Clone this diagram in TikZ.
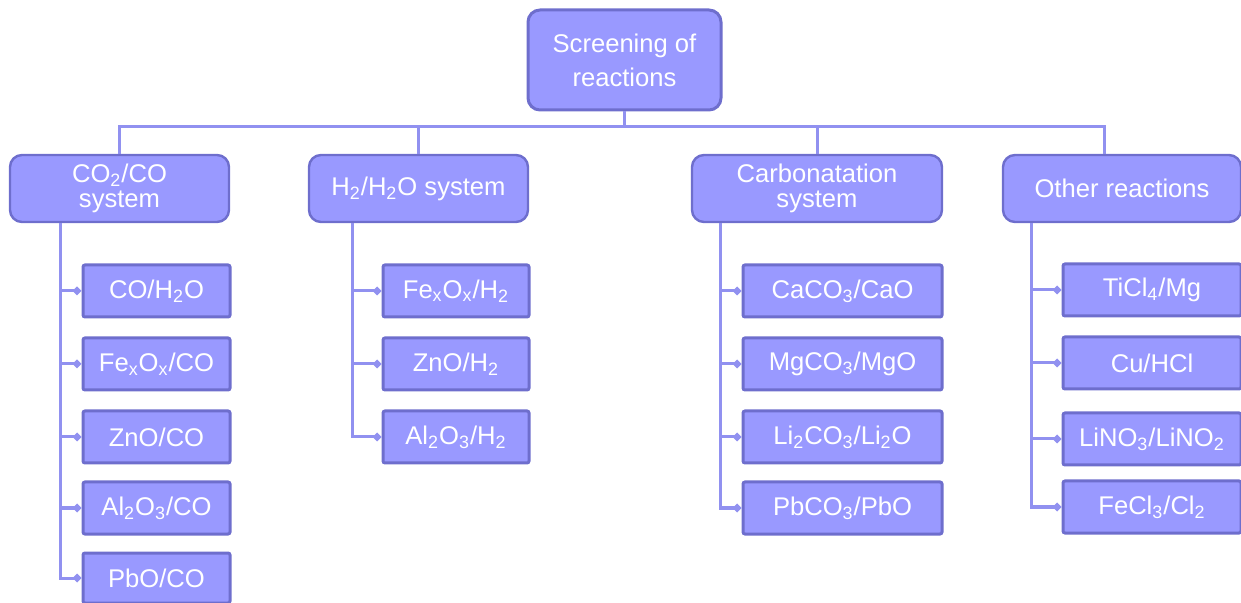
\documentclass[tikz,border=0pt]{standalone}
\usepackage{fontspec}
\setmainfont{Liberation Sans}
\usetikzlibrary{arrows.meta}
\definecolor{boxfill}{RGB}{153,153,255}
\definecolor{boxline}{RGB}{110,110,205}
\definecolor{linkline}{RGB}{145,145,240}
\newcommand{\ix}[1]{\textsubscript{#1}}
\tikzset{
  rootbox/.style={draw=boxline, line width=1.5pt, fill=boxfill, rounded corners=6pt, text=white, align=center, minimum width=96.5pt, minimum height=50pt, inner sep=0pt, font=\fontsize{12.8}{17}\selectfont},
  groupbox/.style={draw=boxline, line width=1.2pt, fill=boxfill, rounded corners=6pt, text=white, align=center, minimum height=33.5pt, inner sep=0pt, font=\fontsize{12.8}{12.8}\selectfont},
  itembox/.style={draw=boxline, line width=1.5pt, fill=boxfill, rounded corners=1pt, text=white, minimum height=26pt, inner sep=0pt, font=\fontsize{12.8}{15}\selectfont},
  link/.style={draw=linkline, line width=1.5pt},
  leaf/.style={link, -{Turned Square[length=4.5pt,width=4.5pt]}}
}

\begin{document}
\begin{tikzpicture}[x=0.5pt, y=-0.5pt]
    \useasboundingbox (0,0) rectangle (1241,603);
    % top and groups
    \node[rootbox] (root) at (624.5,60) {Screening of\\reactions};
    \node[groupbox, minimum width=109.5pt] (co) at (119.5,188.5) {CO\ix{2}/CO\\system};
    \node[groupbox, minimum width=109.5pt] (hh) at (418.5,188.5) {H\ix{2}/H\ix{2}O system};
    \node[groupbox, minimum width=125pt] (carb) at (817,188.5) {Carbonatation\\system};
    \node[groupbox, minimum width=119pt] (other) at (1122,188.5) {Other reactions};
    \draw[link] (root.south) -- ++(0,15) coordinate (bus);
    \foreach \g in {co,hh,carb} \draw[link] (\g.north) |- (bus);
    \draw[link] ([xshift=-9pt]other.north) |- (bus);
    % CO2/CO system
    \node[itembox, minimum width=73.5pt] (co1) at (156.5,291) {CO/H\ix{2}O};
    \node[itembox, minimum width=73.5pt] (co2) at (156.5,364) {Fe\ix{x}O\ix{x}/CO};
    \node[itembox, minimum width=73.5pt] (co3) at (156.5,437) {ZnO/CO};
    \node[itembox, minimum width=73.5pt] (co4) at (156.5,508) {Al\ix{2}O\ix{3}/CO};
    \node[itembox, minimum width=73.5pt, minimum height=25pt] (co5) at (156.5,578) {PbO/CO};
    \coordinate (coline) at ([xshift=26pt]co.south west);
    \foreach \c in {co1,co2,co3,co4,co5} \draw[leaf] (coline) |- (\c.west);
    % H2/H2O system
    \node[itembox, minimum width=73pt] (hh1) at (456,291) {Fe\ix{x}O\ix{x}/H\ix{2}};
    \node[itembox, minimum width=73pt] (hh2) at (456,364) {ZnO/H\ix{2}};
    \node[itembox, minimum width=73pt] (hh3) at (456,437) {Al\ix{2}O\ix{3}/H\ix{2}};
    \coordinate (hhline) at ([xshift=22.5pt]hh.south west);
    \foreach \c in {hh1,hh2,hh3} \draw[leaf] (hhline) |- (\c.west);
    % carbonatation
    \node[itembox, minimum width=99.5pt] (carb1) at (842.5,291) {CaCO\ix{3}/CaO};
    \node[itembox, minimum width=99.5pt] (carb2) at (842.5,364) {MgCO\ix{3}/MgO};
    \node[itembox, minimum width=99.5pt] (carb3) at (842.5,437) {Li\ix{2}CO\ix{3}/Li\ix{2}O};
    \node[itembox, minimum width=99.5pt] (carb4) at (842.5,508) {PbCO\ix{3}/PbO};
    \coordinate (carbline) at ([xshift=15pt]carb.south west);
    \foreach \c in {carb1,carb2,carb3,carb4} \draw[leaf] (carbline) |- (\c.west);
    % other reactions
    \node[itembox, minimum width=89pt] (oth1) at (1152,290) {TiCl\ix{4}/Mg};
    \node[itembox, minimum width=89pt] (oth2) at (1152,363) {Cu/HCl};
    \node[itembox, minimum width=89pt] (oth3) at (1152,439) {LiNO\ix{3}/LiNO\ix{2}};
    \node[itembox, minimum width=89pt] (oth4) at (1152,507) {FeCl\ix{3}/Cl\ix{2}};
    \coordinate (othline) at ([xshift=15pt]other.south west);
    \foreach \c in {oth1,oth2,oth3,oth4} \draw[leaf] (othline) |- (\c.west);
\end{tikzpicture}
\end{document}
